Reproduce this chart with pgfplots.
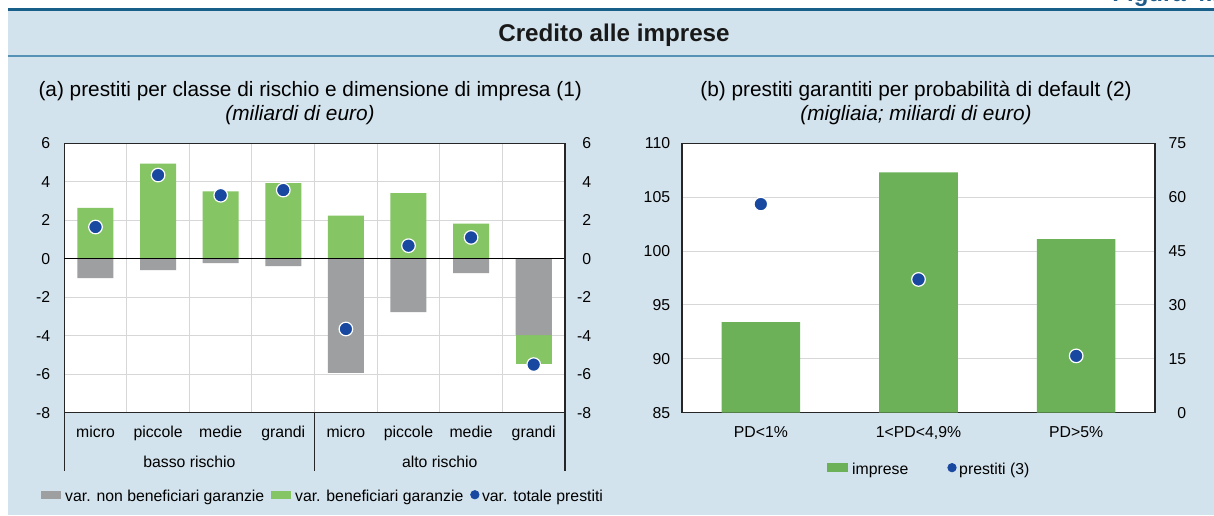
\documentclass[border=0pt]{standalone}
\usepackage{fontspec}
\setmainfont{Liberation Sans}
\usepackage{pgfplots}
\pgfplotsset{compat=1.18}

\definecolor{bgblue}{RGB}{211,227,237}
\definecolor{topline}{RGB}{24,96,138}
\definecolor{subline}{RGB}{86,145,182}
\definecolor{greya}{RGB}{157,159,160}
\definecolor{greena}{RGB}{133,197,99}
\definecolor{greenb}{RGB}{108,177,88}
\definecolor{dotblue}{RGB}{24,72,160}
\definecolor{gridgrey}{RGB}{215,215,215}
\definecolor{figblue}{RGB}{31,92,138}

\newcommand{\smallfont}{\fontsize{7.9}{9}\selectfont}
\newcommand{\headfont}{\fontsize{10.4}{12}\selectfont}

\pgfplotsset{
  panel/.style={
    scale only axis, anchor=south west,
    tick label style={font=\smallfont, inner sep=0pt},
    /pgf/number format/assume math mode=true,
    major tick length=0pt, minor tick length=0pt,
    axis line style={black!85, line width=0.6pt},
    major grid style={gridgrey, line width=0.5pt},
    minor grid style={gridgrey, line width=0.5pt},
  },
  boxlegend/.style={legend image code/.code={
    \fill[#1] (0pt,-0.6pt) rectangle (10pt,3.6pt);
    \path (12pt,0pt);}},
  dotlegend/.style={legend image code/.code={
    \fill[dotblue] (2.2pt,1.5pt) circle (2.1pt);
    \path (5.6pt,0pt);}},
}

\begin{document}
\begin{tikzpicture}
\useasboundingbox (0,0) rectangle (607pt,257.5pt);
% frame of the figure
\fill[bgblue] (4pt,0pt) rectangle (607pt,252.8pt);
\draw[topline, line width=1.3pt] (4pt,252.8pt) -- (607pt,252.8pt);
\draw[subline, line width=1pt] (4pt,229.3pt) -- (607pt,229.3pt);
\node[anchor=base west, inner sep=0pt, text=figblue, font=\fontsize{12}{14}\selectfont\bfseries] at (556pt,256.6pt) {Figura 4.11};
\node[anchor=base, inner sep=0pt, font=\fontsize{12.1}{14}\selectfont\bfseries, text=black!90] at (307pt,236.6pt) {Credito alle imprese};

% titles
\node[anchor=base, inner sep=0pt, font=\headfont] at (155.1pt,209.1pt) {(a) prestiti per classe di rischio e dimensione di impresa (1)};
\node[anchor=base, inner sep=0pt, font=\headfont\itshape] at (150pt,197.2pt) {(miliardi di euro)};
\node[anchor=base, inner sep=0pt, font=\headfont] at (458pt,209.1pt) {(b) prestiti garantiti per probabilità di default (2)};
\node[anchor=base, inner sep=0pt, font=\headfont\itshape] at (458pt,197.2pt) {(migliaia; miliardi di euro)};

% ---------- panel (a)
\begin{axis}[panel, name=A,
  at={(32.1pt,51.15pt)}, width=250.4pt, height=134.7pt,
  axis background/.style={fill=white},
  xmin=0, xmax=8, ymin=-8, ymax=6,
  ytick={-8,-6,...,6}, ymajorgrids,
  yticklabel style={xshift=-6.8pt},
  xtick={0.5,1.5,2.5,3.5,4.5,5.5,6.5,7.5},
  xticklabels={micro,piccole,medie,grandi,micro,piccole,medie,grandi},
  xticklabel style={anchor=base, yshift=-12.2pt},
  minor xtick={1,2,3,4,5,6,7}, xminorgrids,
  clip=false,
  legend style={at={(axis description cs:0.515,-0.315)}, anchor=center,
    draw=none, fill=none, legend columns=3, font=\smallfont, inner sep=0pt,
    nodes={inner sep=0pt}, /tikz/every even column/.append style={column sep=3.4pt}},
]
% lower part of the green bar for grandi (alto rischio), drawn under the grey one
\addplot[ybar, bar width=18pt, bar shift=0pt, fill=greena, draw=none, forget plot]
  coordinates {(7.5,-5.48)};
\addplot[ybar, bar width=18pt, bar shift=0pt, fill=greya, draw=none, boxlegend=greya]
  coordinates {(0.5,-1.01) (1.5,-0.59) (2.5,-0.23) (3.5,-0.38)
               (4.5,-5.93) (5.5,-2.77) (6.5,-0.75) (7.5,-3.97)};
\addlegendentry{var. non beneficiari garanzie}
\addplot[ybar, bar width=18pt, bar shift=0pt, fill=greena, draw=none, boxlegend=greena]
  coordinates {(0.5,2.64) (1.5,4.94) (2.5,3.50) (3.5,3.93)
               (4.5,2.24) (5.5,3.41) (6.5,1.83)};
\addlegendentry{var. beneficiari garanzie}
\addplot[black, line width=0.7pt, sharp plot, forget plot] coordinates {(0,0) (8,0)};
\addplot[only marks, mark=*, mark size=3.4pt,
  mark options={fill=dotblue, draw=white, line width=0.6pt}, dotlegend]
  coordinates {(0.5,1.65) (1.5,4.35) (2.5,3.30) (3.5,3.57)
               (4.5,-3.65) (5.5,0.68) (6.5,1.11) (7.5,-5.50)};
\addlegendentry{var. totale prestiti}
\node[anchor=base, inner sep=0pt, font=\smallfont] at (axis cs:2,-8) [yshift=-27.2pt] {basso rischio};
\node[anchor=base, inner sep=0pt, font=\smallfont] at (axis cs:6,-8) [yshift=-27.2pt] {alto rischio};
\end{axis}
\begin{axis}[panel,
  at={(32.1pt,51.15pt)}, width=250.4pt, height=134.7pt,
  xmin=0, xmax=8, ymin=-8, ymax=6,
  axis x line=none, axis y line*=right,
  ytick={-8,-6,...,6},
  yticklabel style={anchor=east, xshift=13.3pt},
]
\end{axis}
\draw[black!85, line width=0.6pt] (A.south west) -- ++(0,-29.2pt);
\draw[black!85, line width=0.6pt] (A.south) -- ++(0,-29.2pt);
\draw[black!85, line width=0.6pt] (A.south east) -- ++(0,-29.2pt);

% ---------- panel (b)
\begin{axis}[panel,
  at={(341pt,51.2pt)}, width=236.5pt, height=134.6pt,
  axis background/.style={fill=white},
  xmin=0, xmax=3, ymin=85, ymax=110,
  ytick={85,90,...,110}, ymajorgrids,
  yticklabel style={xshift=-5.75pt},
  xtick={0.5,1.5,2.5},
  xticklabels={{PD<1\%},{1<PD<4,9\%},{PD>5\%}},
  xticklabel style={anchor=base, yshift=-12.2pt},
]
\addplot[ybar, bar width=39.3pt, bar shift=0pt, fill=greenb, draw=none]
  coordinates {(0.5,93.4) (1.5,107.3) (2.5,101.1)};
\end{axis}
\begin{axis}[panel,
  at={(341pt,51.2pt)}, width=236.5pt, height=134.6pt,
  xmin=0, xmax=3, ymin=0, ymax=75,
  axis x line=none, axis y line*=right,
  ytick={0,15,...,75},
  yticklabel style={anchor=east, xshift=15.8pt},
  legend style={at={(axis description cs:0.521,-0.215)}, anchor=center,
    draw=none, fill=none, legend columns=2, font=\smallfont, inner sep=0pt,
    nodes={inner sep=0pt}, /tikz/every even column/.append style={column sep=19.5pt}},
]
\addlegendimage{boxlegend=greenb}
\addlegendentry{imprese}
\addplot[only marks, mark=*, mark size=3.4pt,
  mark options={fill=dotblue, draw=white, line width=0.6pt}, dotlegend]
  coordinates {(0.5,58.1) (1.5,37.1) (2.5,15.8)};
\addlegendentry{prestiti (3)}
\end{axis}
\end{tikzpicture}
\end{document}
